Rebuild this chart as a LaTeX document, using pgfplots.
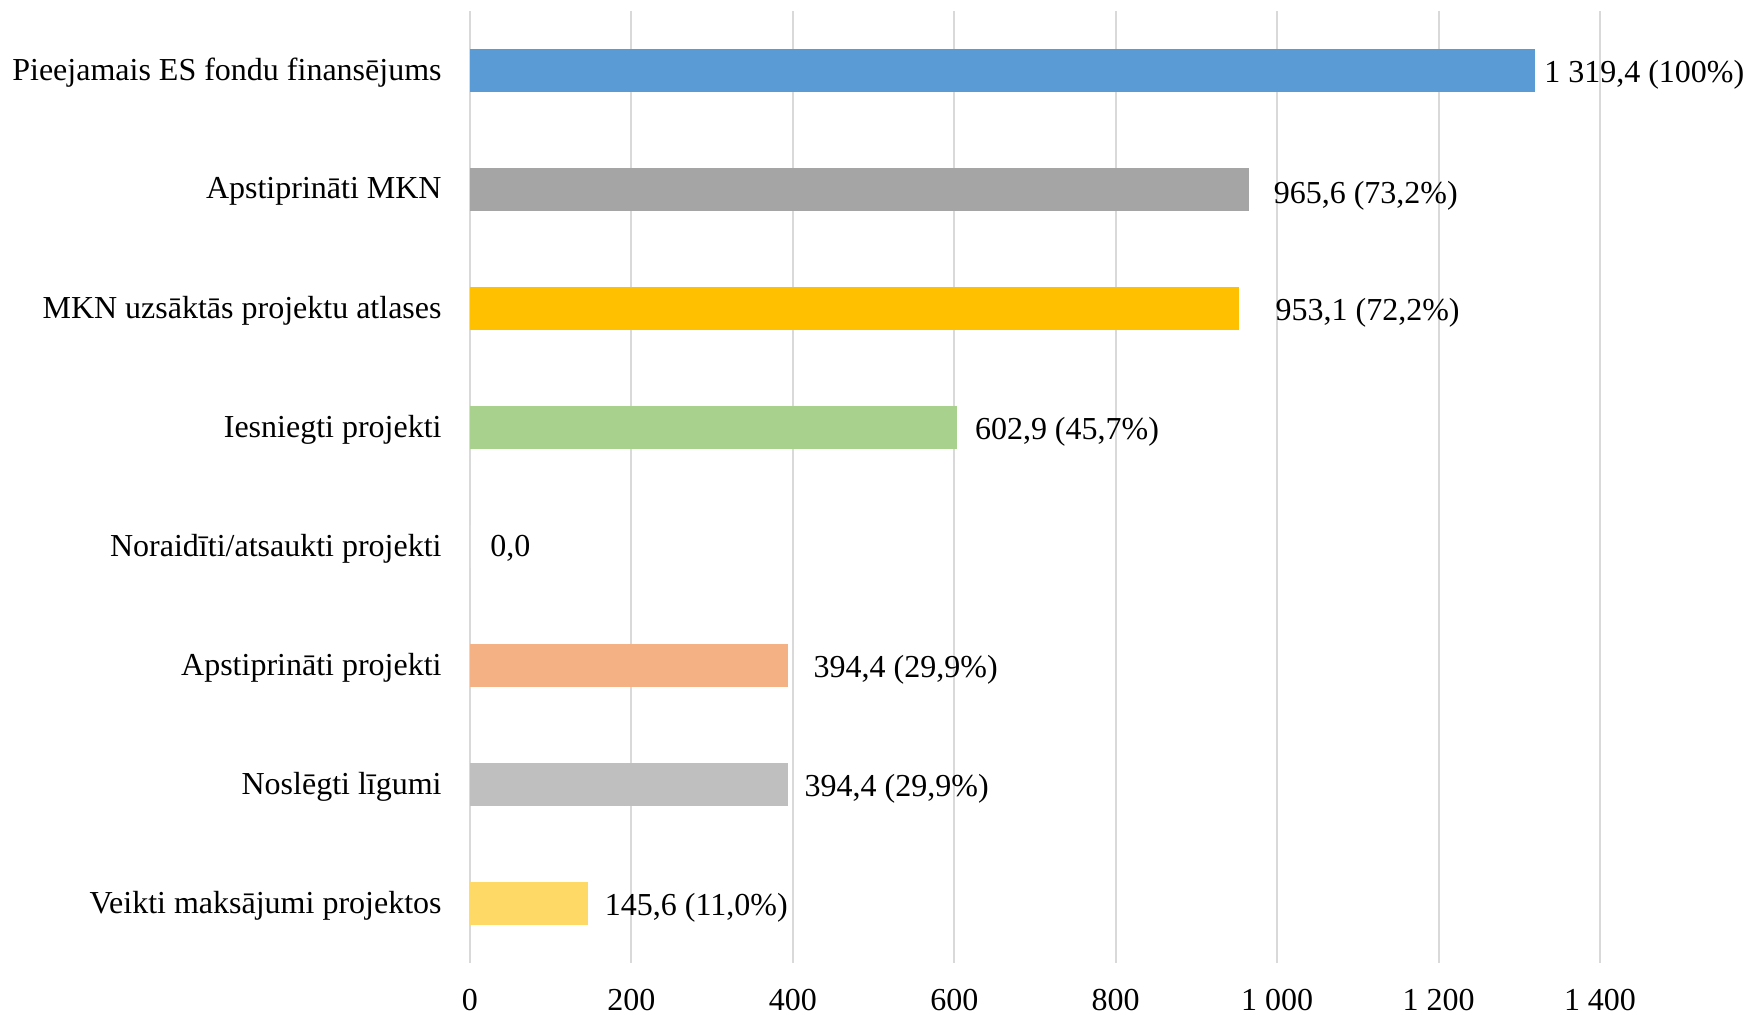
\documentclass[border=0pt]{standalone}
\usepackage{fontspec}
\setmainfont{Liberation Serif}
\usepackage{pgfplots}
\pgfplotsset{compat=1.18}

\definecolor{cblue}{HTML}{5B9BD5}
\definecolor{cgray}{HTML}{A5A5A5}
\definecolor{cgold}{HTML}{FFC000}
\definecolor{cgreen}{HTML}{A9D18E}
\definecolor{corange}{HTML}{F4B183}
\definecolor{clgray}{HTML}{BFBFBF}
\definecolor{cyellow}{HTML}{FFD966}
\definecolor{cgrid}{HTML}{D9D9D9}

\begin{document}
\begin{tikzpicture}
\useasboundingbox (0,0) rectangle (873pt,507.5pt);
\begin{axis}[
    at={(235pt,26pt)}, anchor=south west,
    scale only axis,
    width=565pt, height=476pt,
    xbar, bar width=21.5pt, bar shift=0pt,
    xmin=0, xmax=1400,
    ymin=-0.5, ymax=7.5,
    y dir=reverse,
    axis line style={draw=none},
    major tick length=0pt,
    xmajorgrids,
    grid style={cgrid, line width=1pt},
    xtick={0,200,400,600,800,1000,1200,1400},
    xticklabels={0,200,400,600,800,1 000,1 200,1 400},
    ytick={0,1,2,3,4,5,6,7},
    yticklabels={Pieejamais ES fondu finansējums,Apstiprināti MKN,MKN uzsāktās projektu atlases,Iesniegti projekti,Noraidīti/atsaukti projekti,Apstiprināti projekti,Noslēgti līgumi,Veikti maksājumi projektos},
    font=\fontsize{16}{19}\selectfont,
    /pgf/number format/assume math mode=true,
    xticklabel style={anchor=north, inner sep=0pt, yshift=-13pt},
    yticklabel style={anchor=east, inner sep=0pt, xshift=-14pt, yshift=-1pt},
    clip=false,
    point meta=explicit symbolic,
    nodes near coords,
]
\addplot[fill=cblue, draw=none, every node near coord/.style={anchor=west, inner sep=0pt, xshift=4.5pt, yshift=-2.2pt}]
  coordinates {(1319.4,0) [{1 319,4 (100\%)}]};
\addplot[fill=cgray, draw=none, every node near coord/.style={anchor=west, inner sep=0pt, xshift=12pt, yshift=-3pt}]
  coordinates {(965.6,1) [{965,6 (73,2\%)}]};
\addplot[fill=cgold, draw=none, every node near coord/.style={anchor=west, inner sep=0pt, xshift=18pt, yshift=-2.2pt}]
  coordinates {(953.1,2) [{953,1 (72,2\%)}]};
\addplot[fill=cgreen, draw=none, every node near coord/.style={anchor=west, inner sep=0pt, xshift=9pt, yshift=-2.2pt}]
  coordinates {(602.9,3) [{602,9 (45,7\%)}]};
\addplot[fill=white, draw=none, every node near coord/.style={anchor=west, inner sep=0pt, xshift=10pt, yshift=-1pt}]
  coordinates {(0,4) [{0,0}]};
\addplot[fill=corange, draw=none, every node near coord/.style={anchor=west, inner sep=0pt, xshift=12.5pt, yshift=-2.2pt}]
  coordinates {(394.4,5) [{394,4 (29,9\%)}]};
\addplot[fill=clgray, draw=none, every node near coord/.style={anchor=west, inner sep=0pt, xshift=8pt, yshift=-2.2pt}]
  coordinates {(394.4,6) [{394,4 (29,9\%)}]};
\addplot[fill=cyellow, draw=none, every node near coord/.style={anchor=west, inner sep=0pt, xshift=8.5pt, yshift=-2.2pt}]
  coordinates {(145.6,7) [{145,6 (11,0\%)}]};
\end{axis}
\end{tikzpicture}
\end{document}
